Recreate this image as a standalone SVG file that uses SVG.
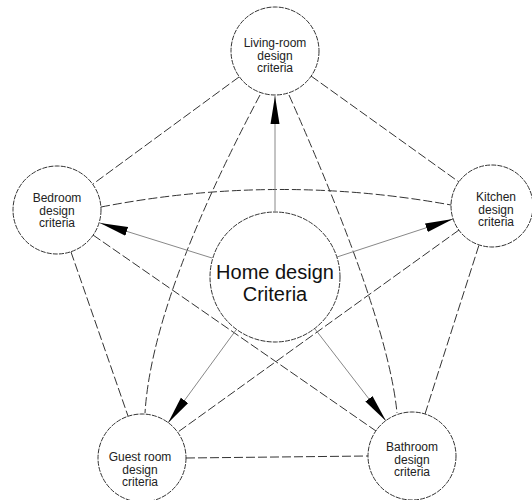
<svg xmlns="http://www.w3.org/2000/svg" width="532" height="500" viewBox="0 0 532 500">
<style>
.node circle{fill:#fff;stroke:#333;stroke-width:1;stroke-dasharray:5 1.2}
.lbl{font-family:"Liberation Sans",Arial,sans-serif;font-size:12px;fill:#222;text-anchor:middle}
.big{font-family:"Liberation Sans",Arial,sans-serif;font-size:20px;fill:#111;text-anchor:middle}
.dash{fill:none;stroke:#333;stroke-width:1;stroke-dasharray:9 3}
.arr{fill:none;stroke:#888;stroke-width:1}
</style>
<defs>
<marker id="ah" viewBox="0 0 28 10" refX="28" refY="5" markerWidth="28" markerHeight="10" markerUnits="userSpaceOnUse" orient="auto">
<path d="M0,0.5 L28,5 L0,9.5 Z" fill="#000"/>
</marker>
</defs>
<rect width="532" height="500" fill="#fff"/>
<g id="connectors">
<line class="dash" x1="311" y1="76" x2="459" y2="182"/>
<line class="dash" x1="239" y1="77" x2="93" y2="184"/>
<line class="dash" x1="71" y1="252" x2="128" y2="416"/>
<line class="dash" x1="186" y1="458" x2="368" y2="456"/>
<line class="dash" x1="425" y1="414" x2="479" y2="245"/>
<path class="dash" d="M101,207 Q276,173 451,205"/>
<path class="dash" d="M260,95 Q152,299 145,413"/>
<path class="dash" d="M289,95 Q388,318 397,413"/>
<line class="dash" x1="93" y1="235" x2="376" y2="431"/>
<line class="dash" x1="459" y1="230" x2="178" y2="432"/>
<line class="arr" x1="275" y1="211" x2="275" y2="96" marker-end="url(#ah)"/>
<line class="arr" x1="212" y1="258" x2="100" y2="223" marker-end="url(#ah)"/>
<line class="arr" x1="337" y1="257" x2="453" y2="219" marker-end="url(#ah)"/>
<line class="arr" x1="236" y1="330" x2="168" y2="423" marker-end="url(#ah)"/>
<line class="arr" x1="315" y1="329" x2="386" y2="421" marker-end="url(#ah)"/>
</g>
<g id="center" class="node">
<circle cx="275" cy="277" r="65"/>
<text class="big" x="275" y="279">Home design</text>
<text class="big" x="275" y="301">Criteria</text>
</g>
<g id="living" class="node">
<circle cx="275" cy="51" r="44"/>
<text class="lbl" x="275" y="47">Living-room</text>
<text class="lbl" x="275" y="59.5">design</text>
<text class="lbl" x="275" y="72">criteria</text>
</g>
<g id="bedroom" class="node">
<circle cx="57" cy="210" r="44"/>
<text class="lbl" x="57" y="202">Bedroom</text>
<text class="lbl" x="57" y="214.5">design</text>
<text class="lbl" x="57" y="227">criteria</text>
</g>
<g id="kitchen" class="node">
<circle cx="492" cy="206" r="41"/>
<text class="lbl" x="496" y="201">Kitchen</text>
<text class="lbl" x="496" y="213.5">design</text>
<text class="lbl" x="496" y="226">criteria</text>
</g>
<g id="guest" class="node">
<circle cx="142" cy="458" r="44"/>
<text class="lbl" x="140" y="461">Guest room</text>
<text class="lbl" x="140" y="473.5">design</text>
<text class="lbl" x="140" y="486">criteria</text>
</g>
<g id="bathroom" class="node">
<circle cx="412" cy="456" r="44"/>
<text class="lbl" x="412" y="451">Bathroom</text>
<text class="lbl" x="412" y="463.5">design</text>
<text class="lbl" x="412" y="476">criteria</text>
</g>
</svg>
